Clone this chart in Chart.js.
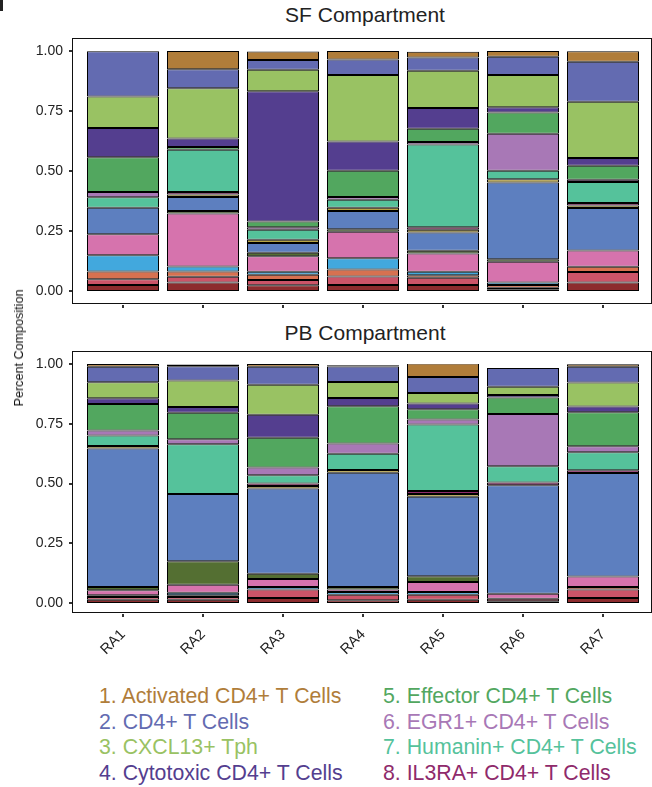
<!DOCTYPE html>
<html lang="en">
<head>
<meta charset="UTF-8">
<title>SF / PB Compartment</title>
<script src="https://cdn.jsdelivr.net/npm/chart.js"></script>
<style>
  body { margin: 0; background: #fff; font-family: "Liberation Sans", Arial, sans-serif; }
  #wrap { position: relative; width: 652px; height: 787px; overflow: hidden; }
  canvas { position: absolute; left: 0; }
  .titulo { position: absolute; left: 0; width: 730px; text-align: center; font-size: 21px; color: #222; line-height: 24px; }
  .ylab { position: absolute; left: 19px; top: 348px; font-size: 12.6px; color: #111; white-space: nowrap;
          transform: translate(-50%, -50%) rotate(-90deg); }
  .leg { position: absolute; font-size: 21.3px; line-height: 25.5px; white-space: nowrap; }
  .corner { position: absolute; left: 0; top: 0; width: 3px; height: 11px; background: #222; }
</style>
</head>
<body>
<div id="wrap">
  <div class="corner"></div>
  <div class="titulo" style="top:3px">SF Compartment</div>
  <canvas id="sf" width="652" height="320" style="top:0"></canvas>
  <div class="titulo" style="top:321px">PB Compartment</div>
  <canvas id="pb" width="652" height="345" style="top:320px"></canvas>
  <div class="ylab">Percent Composition</div>
  <div class="leg" style="left:99px;top:684px" id="leg1"></div>
  <div class="leg" style="left:383px;top:684px" id="leg2"></div>
</div>
<script>
  // patients
  const pacientes = ['RA1', 'RA2', 'RA3', 'RA4', 'RA5', 'RA6', 'RA7'];

  // cell types, top of the stack first
  const tipos = [
    '1. Activated CD4+ T Cells', '2. CD4+ T Cells', '3. CXCL13+ Tph', '4. Cytotoxic CD4+ T Cells',
    '5. Effector CD4+ T Cells', '6. EGR1+ CD4+ T Cells', '7. Humanin+ CD4+ T Cells', '8. IL3RA+ CD4+ T Cells',
    'Cluster 9', 'Cluster 10', 'Cluster 11', 'Cluster 12', 'Cluster 13', 'Cluster 14', 'Cluster 15', 'Cluster 16'
  ];
  const cores = [
    '#b07d3a', '#636bb1', '#99c263', '#543e8f', '#52a75f', '#a878b6', '#55c29b', '#8f2a6b',
    '#b8a544', '#5d7fbf', '#546f32', '#d673ad', '#42a8dd', '#d77150', '#cc5468', '#8d2c2e'
  ];

  // SF compartment (fractions per patient)
  const sfActivated = [0, 0.076, 0.035, 0.035, 0.024, 0.024, 0.044];
  const sfCD4 = [0.189, 0.079, 0.041, 0.065, 0.055, 0.076, 0.166];
  const sfCXCL13 = [0.131, 0.21, 0.09, 0.277, 0.155, 0.134, 0.235];
  const sfCytotoxic = [0.122, 0.035, 0.542, 0.122, 0.087, 0.022, 0.032];
  const sfEffector = [0.144, 0.011, 0.024, 0.109, 0.055, 0.089, 0.058];
  const sfEGR1 = [0.022, 0, 0.011, 0.012, 0.011, 0.154, 0.01];
  const sfHumanin = [0.044, 0.176, 0.041, 0.033, 0.344, 0.035, 0.087];
  const sfIL3RA = [0, 0.011, 0, 0, 0.011, 0, 0.011];
  const sfC9 = [0, 0.01, 0.014, 0.014, 0.011, 0.014, 0.01];
  const sfC10 = [0.111, 0.059, 0.041, 0.076, 0.076, 0.32, 0.177];
  const sfC11 = [0, 0.01, 0.014, 0.01, 0.012, 0.01, 0];
  const sfC12 = [0.087, 0.221, 0.065, 0.111, 0.076, 0.087, 0.068];
  const sfC13 = [0.068, 0.021, 0.012, 0.046, 0.014, 0.01, 0];
  const sfC14 = [0.032, 0.022, 0.022, 0.03, 0.011, 0.011, 0.022];
  const sfC15 = [0.024, 0.024, 0.022, 0.035, 0.03, 0.007, 0.044];
  const sfC16 = [0.025, 0.035, 0.024, 0.025, 0.025, 0.007, 0.035];

  // PB compartment
  const pbActivated = [0.011, 0.007, 0.011, 0.005, 0.056, 0, 0.011];
  const pbCD4 = [0.065, 0.06, 0.076, 0.065, 0.067, 0.078, 0.065];
  const pbCXCL13 = [0.067, 0.111, 0.125, 0.067, 0.044, 0.035, 0.101];
  const pbCytotoxic = [0.024, 0.024, 0.097, 0.035, 0.024, 0.01, 0.024];
  const pbEffector = [0.111, 0.111, 0.124, 0.156, 0.043, 0.069, 0.142];
  const pbEGR1 = [0.021, 0.021, 0.032, 0.042, 0.021, 0.219, 0.025];
  const pbHumanin = [0.044, 0.208, 0.035, 0.069, 0.278, 0.068, 0.076];
  const pbIL3RA = [0, 0, 0.01, 0, 0.013, 0.011, 0.011];
  const pbC9 = [0.011, 0, 0.011, 0.011, 0.011, 0, 0];
  const pbC10 = [0.579, 0.281, 0.357, 0.478, 0.333, 0.454, 0.433];
  const pbC11 = [0.014, 0.099, 0.022, 0.011, 0.024, 0, 0];
  const pbC12 = [0.021, 0.033, 0.033, 0.01, 0.042, 0.021, 0.044];
  const pbC13 = [0, 0.011, 0.011, 0.011, 0.011, 0, 0];
  const pbC14 = [0.007, 0.007, 0, 0, 0, 0, 0.011];
  const pbC15 = [0.011, 0.011, 0.035, 0.024, 0.021, 0.011, 0.035];
  const pbC16 = [0.014, 0.014, 0.021, 0.011, 0.014, 0.007, 0.021];

  const yTicks = [0, 0.25, 0.5, 0.75, 1];

  const sfSeries = [sfActivated, sfCD4, sfCXCL13, sfCytotoxic, sfEffector, sfEGR1, sfHumanin, sfIL3RA,
    sfC9, sfC10, sfC11, sfC12, sfC13, sfC14, sfC15, sfC16];
  const pbSeries = [pbActivated, pbCD4, pbCXCL13, pbCytotoxic, pbEffector, pbEGR1, pbHumanin, pbIL3RA,
    pbC9, pbC10, pbC11, pbC12, pbC13, pbC14, pbC15, pbC16];

  function montarDatasets(series) {
    // chart.js stacks from the bottom, so reverse
    var ds = [];
    for (var i = series.length - 1; i >= 0; i--) {
      ds.push({
        label: tipos[i],
        data: series[i],
        backgroundColor: cores[i],
        borderColor: '#000',
        borderWidth: 1,
        borderSkipped: false,
        categoryPercentage: 1,
        barPercentage: 0.9
      });
    }
    return ds;
  }

  // panel border + little ticks like ggplot
  const moldura = {
    id: 'moldura',
    afterDraw(chart, args, opts) {
      const a = chart.chartArea, c = chart.ctx;
      const l = a.left - 11, r = a.right + 8, t = a.top - 13, b = a.bottom + opts.baixo;
      c.save();
      c.strokeStyle = '#111';
      c.lineWidth = 1;
      c.strokeRect(l + 0.5, t + 0.5, r - l, b - t);
      c.fillStyle = '#333';
      yTicks.forEach(function (v) {
        c.fillRect(l - 3, Math.round(chart.scales.y.getPixelForValue(v)) - 1, 3, 2);
      });
      pacientes.forEach(function (p, i) {
        c.fillRect(Math.round(chart.scales.x.getPixelForValue(i)) - 1, b + 2, 2, 3);
      });
      c.restore();
    }
  };

  function eixoY() {
    return {
      stacked: true, min: 0, max: 1,
      afterBuildTicks: function (s) { s.ticks = yTicks.map(function (v) { return { value: v }; }); },
      afterFit: function (s) { s.width = 83; },
      ticks: {
        callback: function (v) { return v.toFixed(2); },
        font: { size: 14, family: '"Liberation Sans", Arial, sans-serif' },
        color: '#222', padding: 20
      },
      grid: { display: false, drawTicks: false },
      border: { display: false }
    };
  }

  var GraficoSF = new Chart(document.getElementById('sf'), {
    type: 'bar',
    data: { labels: pacientes, datasets: montarDatasets(sfSeries) },
    options: {
      responsive: false, animation: false,
      layout: { padding: { top: 51, bottom: 29, right: 9, left: 0 } },
      plugins: { legend: { display: false }, tooltip: { enabled: false }, moldura: { baixo: 12 } },
      scales: {
        x: { stacked: true, display: false },
        y: eixoY()
      }
    },
    plugins: [moldura]
  });

  var GraficoPB = new Chart(document.getElementById('pb'), {
    type: 'bar',
    data: { labels: pacientes, datasets: montarDatasets(pbSeries) },
    options: {
      responsive: false, animation: false,
      layout: { padding: { top: 44, bottom: 0, right: 9, left: 0 } },
      plugins: { legend: { display: false }, tooltip: { enabled: false }, moldura: { baixo: 9 } },
      scales: {
        x: {
          stacked: true,
          afterFit: function (s) { s.height = 62; },
          ticks: {
            maxRotation: 45, minRotation: 45, padding: 23,
            font: { size: 14.5, family: '"Liberation Sans", Arial, sans-serif' }, color: '#222'
          },
          grid: { display: false, drawTicks: false },
          border: { display: false }
        },
        y: eixoY()
      }
    },
    plugins: [moldura]
  });

  // legend as coloured text, two columns
  var leg1 = document.getElementById('leg1'), leg2 = document.getElementById('leg2');
  for (var k = 0; k < 8; k++) {
    var d = document.createElement('div');
    d.textContent = tipos[k];
    d.style.color = cores[k];
    (k < 4 ? leg1 : leg2).appendChild(d);
  }
</script>
</body>
</html>
